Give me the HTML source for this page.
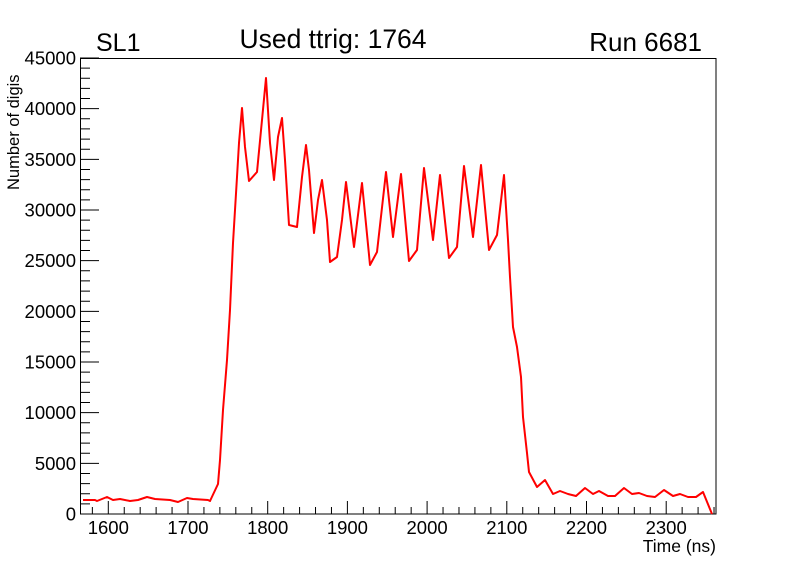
<!DOCTYPE html>
<html><head><meta charset="utf-8"><style>
html,body{margin:0;padding:0;background:#fff;}
svg{display:block;font-family:"Liberation Sans",Arial,sans-serif;}
</style></head><body>
<svg width="796" height="572" viewBox="0 0 796 572" xmlns="http://www.w3.org/2000/svg">
<rect width="796" height="572" fill="#fff"/>
<path fill="none" stroke="#000" stroke-width="1" d="
M80 514h19M80 503.87h10M80 493.73h10M80 483.6h10M80 473.47h10M80 463.33h19M80 453.2h10M80 443.07h10M80 432.93h10M80 422.8h10
M80 412.67h19M80 402.53h10M80 392.4h10M80 382.27h10M80 372.13h10M80 362h19M80 351.87h10M80 341.73h10M80 331.6h10M80 321.47h10
M80 311.33h19M80 301.2h10M80 291.07h10M80 280.93h10M80 270.8h10M80 260.67h19M80 250.53h10M80 240.4h10M80 230.27h10M80 220.13h10
M80 210h19M80 199.87h10M80 189.73h10M80 179.6h10M80 169.47h10M80 159.33h19M80 149.2h10M80 139.07h10M80 128.93h10M80 118.8h10
M80 108.67h19M80 98.53h10M80 88.4h10M80 78.27h10M80 68.13h10M80 58h19
M92.36 514v-7M108.3 514v-13M124.24 514v-7M140.18 514v-7M156.12 514v-7M172.06 514v-7M188 514v-13M203.94 514v-7M219.88 514v-7M235.82 514v-7
M251.76 514v-7M267.7 514v-13M283.64 514v-7M299.58 514v-7M315.52 514v-7M331.46 514v-7M347.4 514v-13M363.34 514v-7M379.28 514v-7M395.22 514v-7
M411.16 514v-7M427.1 514v-13M443.04 514v-7M458.98 514v-7M474.92 514v-7M490.86 514v-7M506.8 514v-13M522.74 514v-7M538.68 514v-7M554.62 514v-7
M570.56 514v-7M586.5 514v-13M602.44 514v-7M618.38 514v-7M634.32 514v-7M650.26 514v-7M666.2 514v-13M682.14 514v-7M698.08 514v-7M714.02 514v-7"/>
<rect x="80.5" y="58.5" width="635.5" height="455.5" fill="none" stroke="#000" stroke-width="1"/>
<polyline fill="none" stroke="#ff0000" stroke-width="2" stroke-linejoin="round" points="
83,500 95,500 97,501 107,497 113,500 120,499 130,501 138,500 147,497 155,499 170,500 178,502 187,498 193,499 208,500 210,501 218,484
220,460 223,410 227,360 230,310 233,243 237,177 239,143 242,108 245,147 249,181 257,172 262,120 266,78 270,143 274,180 278,137 282,118 285,160 289,225 297,227 302,177 306,145 309,170 314,233 318,200 322,180 327,220 330,262 337,257 342,220 346,182
354,247 362,183 370,265 377,252 386,172 393,237 401,174 409,261 417,250 424,168 433,240 440,175 449,258 457,247 464,166 473,237 481,165 489,250 497,235 504,175 508,240 510,277 513,327 517,347 521,377 523,417 527,453 529,472
537,487 545,480 553,494 560,491 568,494 576,496 585,488 593,494 599,491 608,496 615,496 624,488 632,494 639,493 647,496 655,497 664,490 673,496 680,494 688,497 696,497 703,492 712,514"/>
<g font-size="18.5" fill="#000" text-anchor="end">
<text x="76" y="520.5">0</text>
<text x="76" y="469.8">5000</text>
<text x="76" y="419.2">10000</text>
<text x="76" y="368.5">15000</text>
<text x="76" y="317.8">20000</text>
<text x="76" y="267.2">25000</text>
<text x="76" y="216.5">30000</text>
<text x="76" y="165.8">35000</text>
<text x="76" y="115.2">40000</text>
<text x="76" y="64.5">45000</text>
</g>
<g font-size="18.5" fill="#000" text-anchor="middle">
<text x="108.3" y="534">1600</text>
<text x="188" y="534">1700</text>
<text x="267.7" y="534">1800</text>
<text x="347.4" y="534">1900</text>
<text x="427.1" y="534">2000</text>
<text x="506.8" y="534">2100</text>
<text x="586.5" y="534">2200</text>
<text x="666.2" y="534">2300</text>
</g>
<text x="96" y="51" font-size="25">SL1</text>
<text x="333" y="48" font-size="26.5" text-anchor="middle">Used ttrig: 1764</text>
<text x="702" y="51" font-size="26" text-anchor="end">Run 6681</text>
<text x="716" y="552" font-size="17.5" text-anchor="end">Time (ns)</text>
<text transform="translate(19,190) rotate(-90)" font-size="16.5">Number of digis</text>
</svg>
</body></html>
